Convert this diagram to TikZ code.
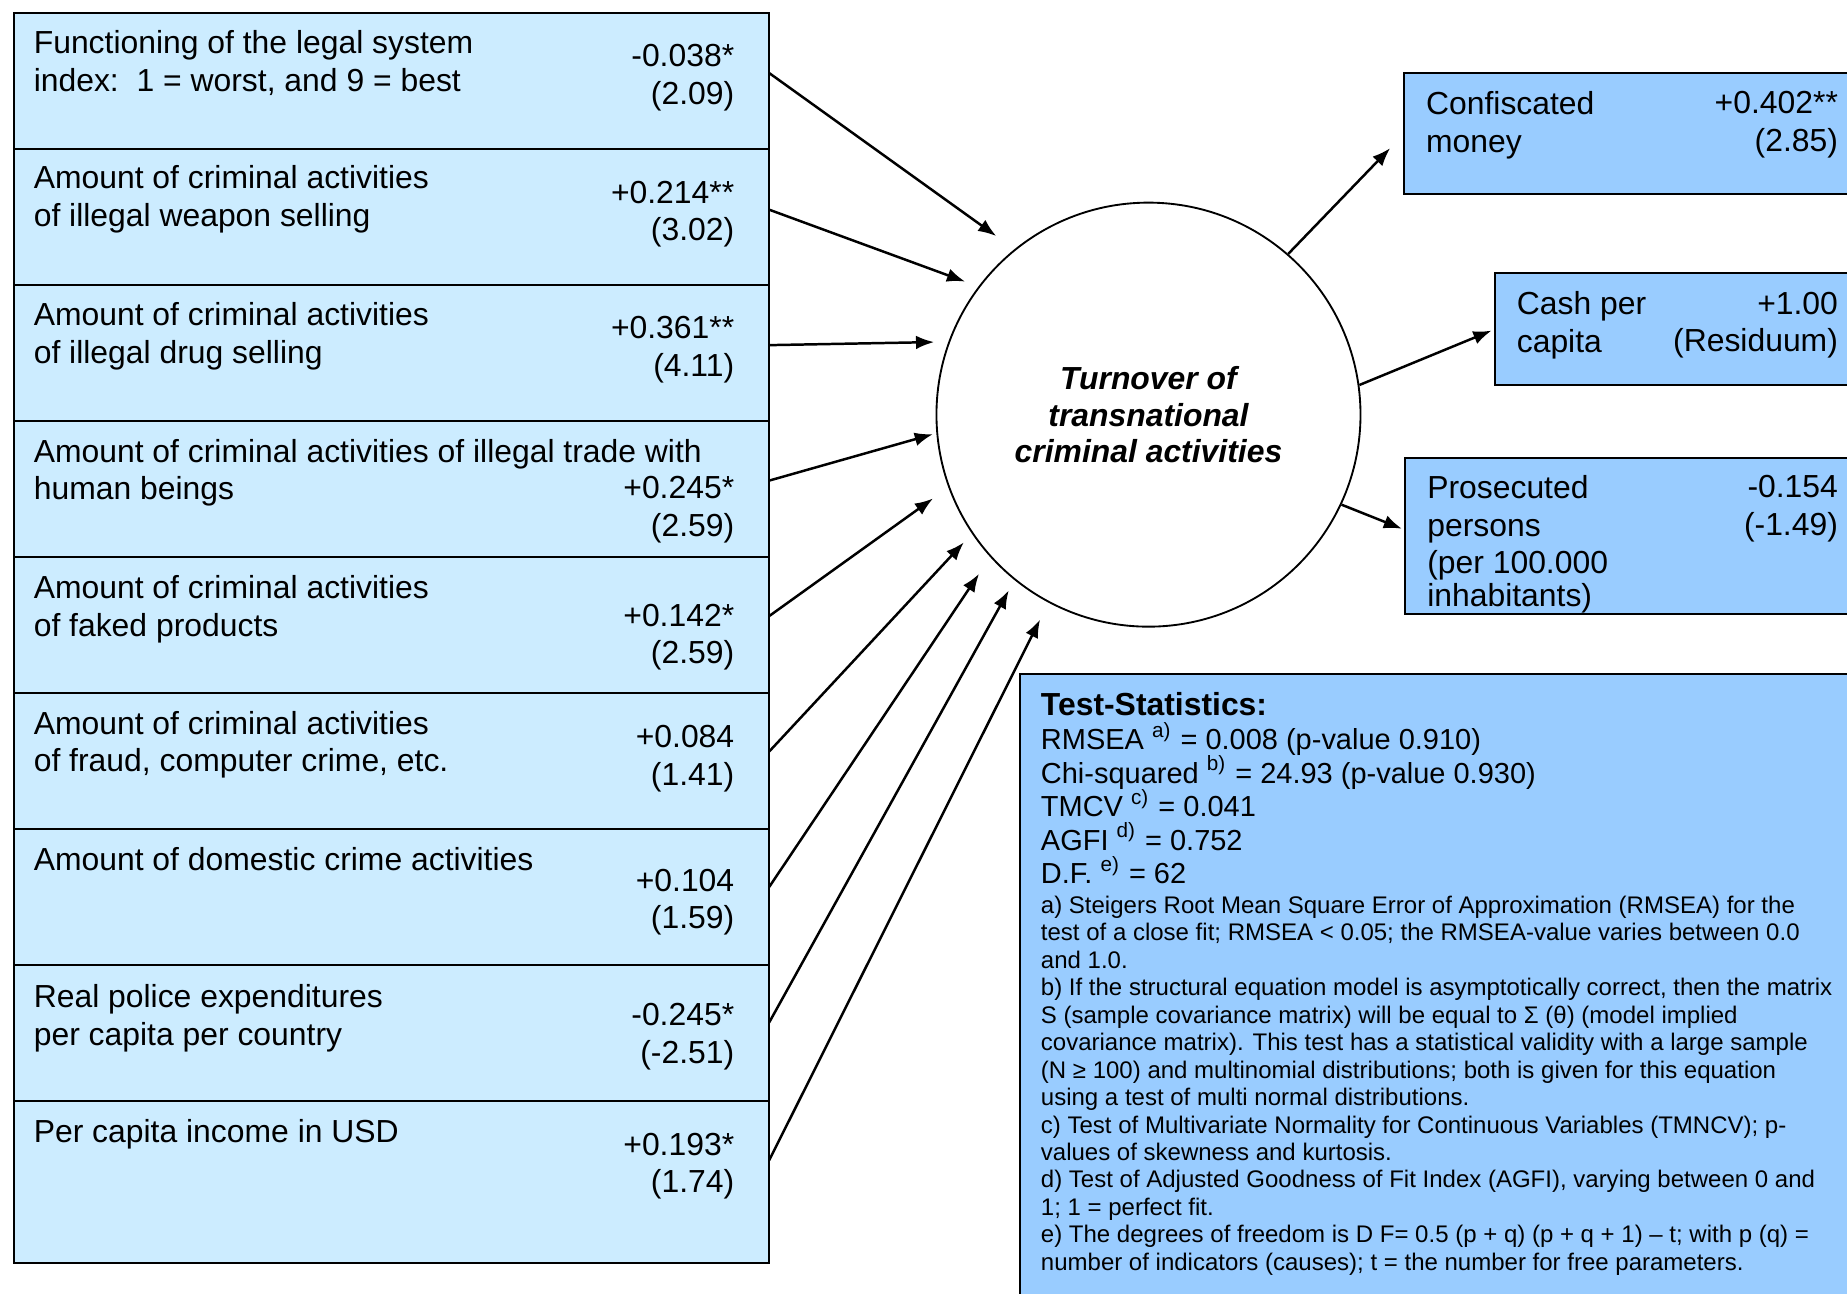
\documentclass[tikz,border=0pt]{standalone}
\usepackage{fontspec}
\setmainfont{Liberation Sans}
\usetikzlibrary{positioning,arrows.meta}
\definecolor{lightblue}{RGB}{204,236,255}
\definecolor{midblue}{RGB}{153,204,255}

\begin{document}
\begin{tikzpicture}[x=0.1mm, y=-0.1mm,
		lbox/.style={rectangle, draw, line width=0.5pt, fill=lightblue, minimum width=64.1mm, minimum height=11.55mm, inner sep=0pt, outer sep=0pt},
		rbox/.style={rectangle, draw, line width=0.5pt, fill=midblue, anchor=north west, inner sep=0pt, outer sep=0pt},
		txt/.style={anchor=north west, inner sep=0pt, align=left, font=\fontsize{7.7}{9.1}\selectfont},
		val/.style={anchor=north east, inner sep=0pt, align=right, font=\fontsize{7.7}{9.1}\selectfont},
		arr/.style={-{Latex[length=4.4pt, width=3.3pt]}, line width=0.6pt}]
		\useasboundingbox (0,0) rectangle (1568,1098);
		\clip (0,0) rectangle (1568,1098);

		\node[lbox, anchor=north west] (legal) at (12,11) {};
		\node[lbox, below=0pt of legal] (weapon) {};
		\node[lbox, below=0pt of weapon] (drug) {};
		\node[lbox, below=0pt of drug] (human) {};
		\node[lbox, below=0pt of human] (faked) {};
		\node[lbox, below=0pt of faked] (fraud) {};
		\node[lbox, below=0pt of fraud] (domestic) {};
		\node[lbox, below=0pt of domestic] (police) {};
		\node[lbox, below=0pt of police, minimum height=13.7mm] (income) {};

		\node[txt] (legaltxt) at ([xshift=1.6mm, yshift=-1.4mm]legal.north west) {Functioning of the legal system\\index:\ \ 1 = worst, and 9 = best};
		\node[txt] (weapontxt) at ([xshift=1.6mm, yshift=-1.35mm]weapon.north west) {Amount of criminal activities\\of illegal weapon selling};
		\node[txt] (drugtxt) at ([xshift=1.6mm, yshift=-1.4mm]drug.north west) {Amount of criminal activities\\of illegal drug selling};
		\node[txt] (humantxt) at ([xshift=1.6mm, yshift=-1.45mm]human.north west) {Amount of criminal activities of illegal trade with\\human beings};
		\node[txt] (fakedtxt) at ([xshift=1.6mm, yshift=-1.5mm]faked.north west) {Amount of criminal activities\\of faked products};
		\node[txt] (fraudtxt) at ([xshift=1.6mm, yshift=-1.45mm]fraud.north west) {Amount of criminal activities\\of fraud, computer crime, etc.};
		\node[txt] (domestictxt) at ([xshift=1.6mm, yshift=-1.5mm]domestic.north west) {Amount of domestic crime activities};
		\node[txt] (policetxt) at ([xshift=1.6mm, yshift=-1.55mm]police.north west) {Real police expenditures\\per capita per country};
		\node[txt] (incometxt) at ([xshift=1.6mm, yshift=-1.5mm]income.north west) {Per capita income in USD};

		\node[val] (legalval) at ([xshift=-2.9mm, yshift=-2.6mm]legal.north east) {-0.038*\\(2.09)};
		\node[val] (weaponval) at ([xshift=-2.9mm, yshift=-2.65mm]weapon.north east) {+0.214**\\(3.02)};
		\node[val] (drugval) at ([xshift=-2.9mm, yshift=-2.6mm]drug.north east) {+0.361**\\(4.11)};
		\node[val] (humanval) at ([xshift=-2.9mm, yshift=-4.65mm]human.north east) {+0.245*\\(2.59)};
		\node[val] (fakedval) at ([xshift=-2.9mm, yshift=-3.9mm]faked.north east) {+0.142*\\(2.59)};
		\node[val] (fraudval) at ([xshift=-2.9mm, yshift=-2.65mm]fraud.north east) {+0.084\\(1.41)};
		\node[val] (domesticval) at ([xshift=-2.9mm, yshift=-3.3mm]domestic.north east) {+0.104\\(1.59)};
		\node[val] (policeval) at ([xshift=-2.9mm, yshift=-3.15mm]police.north east) {-0.245*\\(-2.51)};
		\node[val] (incomeval) at ([xshift=-2.9mm, yshift=-2.6mm]income.north east) {+0.193*\\(1.74)};

		\node[circle, draw, line width=0.45pt, fill=white, minimum size=36mm, inner sep=0pt, align=center, font=\fontsize{7.7}{8.9}\selectfont\bfseries\itshape] (turn) at (975,352) {Turnover of\\transnational\\criminal activities};

		\node[rbox, minimum width=38.3mm, minimum height=10.3mm] (money) at (1192,62) {};
		\node[rbox, minimum width=30.6mm, minimum height=9.5mm] (cash) at (1269,232) {};
		\node[rbox, minimum width=38.2mm, minimum height=13.2mm] (prosec) at (1193,389) {};
		\node[rbox, minimum width=71mm, minimum height=54mm] (stats) at (866,572) {};

		\node[txt] (moneytxt) at ([xshift=1.8mm, yshift=-1.5mm]money.north west) {Confiscated\\money};
		\node[val] (moneyval) at ([xshift=-1.4mm, yshift=-1.5mm]money.north east) {+0.402**\\(2.85)};
		\node[txt] (cashtxt) at ([xshift=1.8mm, yshift=-1.5mm]cash.north west) {Cash per\\capita};
		\node[val] (cashval) at ([xshift=-1.4mm, yshift=-1.5mm]cash.north east) {+1.00\\(Residuum)};
		\node[txt] (prosectxt) at ([xshift=1.8mm, yshift=-1.4mm]prosec.north west) {Prosecuted\\persons\\(per 100.000\\[-1.3pt]inhabitants)};
		\node[val] (prosecval) at ([xshift=-1.4mm, yshift=-1.4mm]prosec.north east) {-0.154\\(-1.49)};

		\node[txt, font=\fontsize{7.7}{9.1}\selectfont\bfseries] (statstitle) at ([xshift=1.7mm, yshift=-1.5mm]stats.north west) {Test-Statistics:};
		\node[txt, font=\fontsize{7}{8.08}\selectfont] (statslist) at ([xshift=1.7mm, yshift=-4.6mm]stats.north west) {RMSEA \smash{\textsuperscript{a)}} = 0.008 (p-value 0.910)\\Chi-squared \smash{\textsuperscript{b)}} = 24.93 (p-value 0.930)\\TMCV \smash{\textsuperscript{c)}} = 0.041\\AGFI \smash{\textsuperscript{d)}} = 0.752\\D.F. \smash{\textsuperscript{e)}} = 62};
		\node[txt, font=\fontsize{5.8}{6.63}\selectfont] (statsnotes) at ([xshift=1.7mm, yshift=-18.8mm]stats.north west) {a) Steigers Root Mean Square Error of Approximation (RMSEA) for the\\test of a close fit; RMSEA < 0.05; the RMSEA-value varies between 0.0\\and 1.0.\\b) If the structural equation model is asymptotically correct, then the matrix\\S (sample covariance matrix) will be equal to Σ (θ) (model implied\\covariance matrix). This test has a statistical validity with a large sample\\(N ≥ 100) and multinomial distributions; both is given for this equation\\using a test of multi normal distributions.\\c) Test of Multivariate Normality for Continuous Variables (TMNCV); p-\\values of skewness and kurtosis.\\d) Test of Adjusted Goodness of Fit Index (AGFI), varying between 0 and\\1; 1 = perfect fit.\\e) The degrees of freedom is D F= 0.5 (p + q) (p + q + 1) – t; with p (q) =\\number of indicators (causes); t = the number for free parameters.};

		\draw[arr, shorten >=1.9mm] ([yshift=0.675mm]legal.east) -- (turn.129.5);
		\draw[arr, shorten >=1.2mm] ([yshift=0.625mm]weapon.east) -- (turn.143.2);
		\draw[arr, shorten >=1.2mm] ([yshift=0.675mm]drug.east) -- (turn.160.9);
		\draw[arr, shorten >=0.3mm] ([yshift=0.725mm]human.east) -- (turn.185.5);
		\draw[arr, shorten >=1.6mm] ([yshift=0.775mm]faked.east) -- (turn.200.1);
		\draw[arr, shorten >=1.0mm] ([yshift=0.825mm]fraud.east) -- (turn.214.7);
		\draw[arr, shorten >=1.7mm] ([yshift=0.875mm]domestic.east) -- (turn.222.1);
		\draw[arr, shorten >=1.0mm] ([yshift=0.925mm]police.east) -- (turn.231.5);
		\draw[arr, shorten >=1.6mm] ([yshift=1.85mm]income.east) -- (turn.242.3);

		\draw[arr, shorten >=1.7mm] (turn.49.7) -- (money.west);
		\draw[arr, shorten >=0.3mm] (turn.8) -- (cash.west);
		\draw[arr, shorten >=0.3mm] (turn.-25.7) -- ([yshift=0.5mm]prosec.west);
	\end{tikzpicture}
\end{document}
